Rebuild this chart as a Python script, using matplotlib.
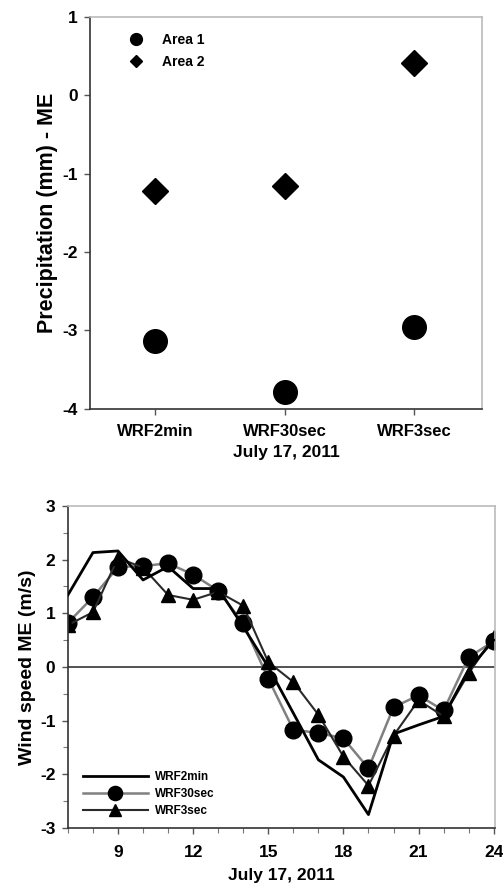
import matplotlib
matplotlib.use("Agg")
import matplotlib.pyplot as plt
from matplotlib.ticker import MultipleLocator
import numpy as np

plt.rcParams['font.family'] = ['Liberation Sans', 'DejaVu Sans']
plt.rcParams['font.weight'] = 'bold'

# ---- top panel data ----
models = ["WRF2min", "WRF30sec", "WRF3sec"]
area1 = [-3.14, -3.79, -2.96]
area2 = [-1.22, -1.16, 0.41]

# ---- bottom panel data ----
hours = [7, 8, 9, 10, 11, 12, 13, 14, 15, 16, 17, 18, 19, 20, 21, 22, 23, 24]
wrf2min = [1.34, 2.13, 2.16, 1.62, 1.87, 1.46, 1.46, 0.75, 0.0, -0.86, -1.73, -2.05, -2.75, -1.25, -1.08, -0.92, -0.05, 0.50]
wrf30sec = [0.82, 1.30, 1.86, 1.88, 1.93, 1.72, 1.42, 0.81, -0.22, -1.17, -1.23, -1.33, -1.89, -0.75, -0.53, -0.81, 0.18, 0.48]
wrf3sec = [0.78, 1.02, 2.03, 1.85, 1.34, 1.25, 1.40, 1.14, 0.09, -0.28, -0.89, -1.67, -2.21, -1.28, -0.62, -0.92, -0.12, 0.56]

fig = plt.figure(figsize=(5.03, 8.85), dpi=100)

def style_axes(ax):
    ax.spines['left'].set_color('#333333')
    ax.spines['bottom'].set_color('#333333')
    ax.spines['top'].set_color('#bbbbbb')
    ax.spines['right'].set_color('#bbbbbb')
    for s in ax.spines.values():
        s.set_linewidth(1.2)
    ax.tick_params(direction='out', length=4, width=1, color='#555555')
    ax.tick_params(which='minor', direction='out', length=3.5, width=0.8, color='#777777')

# ---- top ----
ax1 = fig.add_axes([0.179, 0.538, 0.779, 0.443])
style_axes(ax1)
x = np.arange(len(models))
ax1.plot(x, area1, 'o', color='black', markersize=17, linestyle='none', label='Area 1')
ax1.plot(x, area2, 'D', color='black', markersize=13, linestyle='none', label='Area 2')
ax1.set_xlim(-0.5, 2.52)
ax1.set_ylim(-4, 1)
ax1.set_xticks(x)
ax1.set_xticklabels(models, fontsize=12, fontweight='bold')
ax1.set_yticks([-4, -3, -2, -1, 0, 1])
ax1.set_yticklabels(['-4', '-3', '-2', '-1', '0', '1'], fontsize=12.5, fontweight='bold')
ax1.tick_params(axis='x', pad=7)
ax1.tick_params(axis='y', pad=5)
ax1.set_ylabel('Precipitation (mm) - ME', fontsize=15.5, fontweight='bold', labelpad=3)
ax1.set_xlabel('July 17, 2011', fontsize=12.5, fontweight='bold', labelpad=4)
ax1.legend(loc='upper left', frameon=False, prop={'weight': 'bold', 'size': 10},
           markerscale=0.5, handletextpad=0.9, labelspacing=0.55,
           bbox_to_anchor=(0.05, 0.99))

# ---- bottom ----
ax2 = fig.add_axes([0.135, 0.0644, 0.849, 0.364])
style_axes(ax2)
ax2.axhline(0, color='#444444', linewidth=1.3, zorder=1)
ax2.plot(hours, wrf2min, '-', color='black', linewidth=2, label='WRF2min', zorder=3)
ax2.plot(hours, wrf30sec, '-o', color='#808080', linewidth=1.8, markersize=12,
         markerfacecolor='black', markeredgecolor='black', label='WRF30sec', zorder=2)
ax2.plot(hours, wrf3sec, '-^', color='#2a2a2a', linewidth=1.5, markersize=10,
         markerfacecolor='black', markeredgecolor='black', label='WRF3sec', zorder=2)
ax2.set_xlim(7, 24.05)
ax2.set_ylim(-3, 3)
ax2.set_xticks([9, 12, 15, 18, 21, 24])
ax2.set_xticklabels(['9', '12', '15', '18', '21', '24'], fontsize=12.5, fontweight='bold')
ax2.xaxis.set_minor_locator(MultipleLocator(1))
ax2.yaxis.set_minor_locator(MultipleLocator(0.5))
ax2.set_yticks([-3, -2, -1, 0, 1, 2, 3])
ax2.set_yticklabels(['-3', '-2', '-1', '0', '1', '2', '3'], fontsize=12.5, fontweight='bold')
ax2.tick_params(axis='x', pad=8)
ax2.tick_params(axis='y', pad=5)
ax2.set_ylabel('Wind speed ME (m/s)', fontsize=14, fontweight='bold', labelpad=3)
ax2.set_xlabel('July 17, 2011', fontsize=12.5, fontweight='bold', labelpad=6)
ax2.legend(loc='lower left', frameon=False, prop={'weight': 'bold', 'size': 8.5},
           handlelength=5.5, handletextpad=0.6, labelspacing=0.45, markerscale=0.85,
           bbox_to_anchor=(0.01, 0.0))

fig.savefig('out.png', dpi=100)
